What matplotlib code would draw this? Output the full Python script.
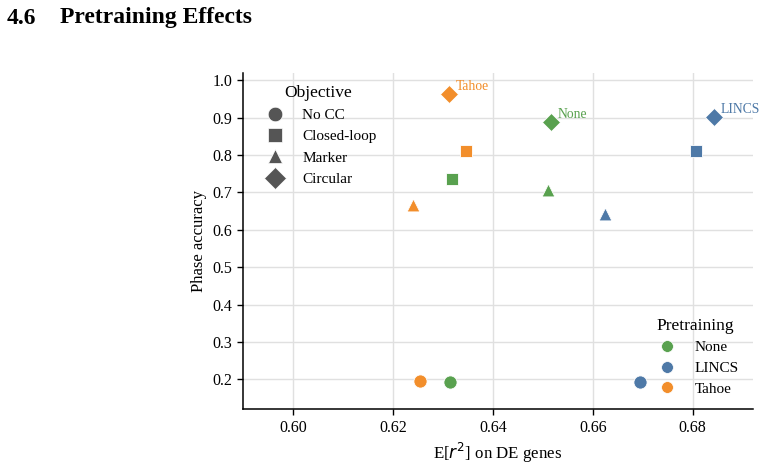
import matplotlib
matplotlib.use("Agg")
import matplotlib.pyplot as plt
from matplotlib.lines import Line2D

plt.rcParams['font.family'] = ['Liberation Serif', 'DejaVu Serif']

# Data
pretraining = ["None", "LINCS", "Tahoe"]
objectives = ["No CC", "Closed-loop", "Marker", "Circular"]
colors = {"None": "#59a14f", "LINCS": "#4e79a7", "Tahoe": "#f28e2b"}
markers = {"No CC": "o", "Closed-loop": "s", "Marker": "^", "Circular": "D"}
msizes = {"No CC": 90, "Closed-loop": 85, "Marker": 85, "Circular": 85}

# E[r^2] on DE genes (x) and Phase accuracy (y), per pretraining, in objective order
x_none = [0.6315, 0.6318, 0.6511, 0.6516]
y_none = [0.192, 0.735, 0.707, 0.888]
x_lincs = [0.6694, 0.6807, 0.6625, 0.6842]
y_lincs = [0.193, 0.811, 0.641, 0.901]
x_tahoe = [0.6255, 0.6347, 0.6241, 0.6312]
y_tahoe = [0.197, 0.812, 0.665, 0.962]

xs = {"None": x_none, "LINCS": x_lincs, "Tahoe": x_tahoe}
ys = {"None": y_none, "LINCS": y_lincs, "Tahoe": y_tahoe}

fig = plt.figure(figsize=(7.66, 4.70), dpi=100)
ax = fig.add_axes([0.3172, 0.1291, 0.6654, 0.7162])

for p in pretraining:
    for i, o in enumerate(objectives):
        ax.scatter(xs[p][i], ys[p][i], marker=markers[o], s=msizes[o],
                   color=colors[p], edgecolor="white", linewidth=0.6, zorder=3)
    ci = objectives.index("Circular")
    ax.annotate(p, (xs[p][ci], ys[p][ci]), xytext=(5, 5.5), textcoords="offset points",
                ha="left", va="center", color=colors[p], fontsize=9.8)

ax.set_xlim(0.59, 0.692)
ax.set_ylim(0.12, 1.02)
ax.set_xticks([0.60, 0.62, 0.64, 0.66, 0.68])
ax.set_xticklabels(["0.60", "0.62", "0.64", "0.66", "0.68"])
ax.set_yticks([0.2, 0.3, 0.4, 0.5, 0.6, 0.7, 0.8, 0.9, 1.0])
ax.set_yticklabels(["0.2", "0.3", "0.4", "0.5", "0.6", "0.7", "0.8", "0.9", "1.0"])
ax.tick_params(labelsize=11.5, length=4, width=1, color="black")
ax.grid(True, color="#e0e0e0", linewidth=1)
ax.set_axisbelow(True)
for s in ["top", "right"]:
    ax.spines[s].set_visible(False)
for s in ["left", "bottom"]:
    ax.spines[s].set_linewidth(1.1)

ax.set_xlabel("E[$r^2$] on DE genes", fontsize=12.2)
ax.set_ylabel("Phase accuracy", fontsize=12)

obj_handles = [Line2D([], [], marker=markers[o], linestyle="none", color="#555555",
                      markersize=10.5 if o != "Circular" else 11, markeredgecolor="white",
                      markeredgewidth=0.5) for o in objectives]
leg1 = ax.legend(obj_handles, objectives, title="Objective", loc="upper left",
                 bbox_to_anchor=(0.005, 1.005), frameon=False, fontsize=11,
                 title_fontsize=12.5, handletextpad=0.8, labelspacing=0.5)
ax.add_artist(leg1)

pre_handles = [Line2D([], [], marker="o", linestyle="none", color=colors[p],
                      markersize=8.5, markeredgecolor="white", markeredgewidth=0.5)
               for p in pretraining]
ax.legend(pre_handles, pretraining, title="Pretraining", loc="lower right",
          bbox_to_anchor=(1.0, 0.0), frameon=False, fontsize=11,
          title_fontsize=12.5, handletextpad=0.8, labelspacing=0.45)

fig.text(0.008, 0.95, "4.6", fontsize=17, fontweight="bold", va="baseline")
fig.text(0.078, 0.95, "Pretraining Effects", fontsize=17, fontweight="bold", va="baseline")

fig.savefig("out.png", dpi=100)
